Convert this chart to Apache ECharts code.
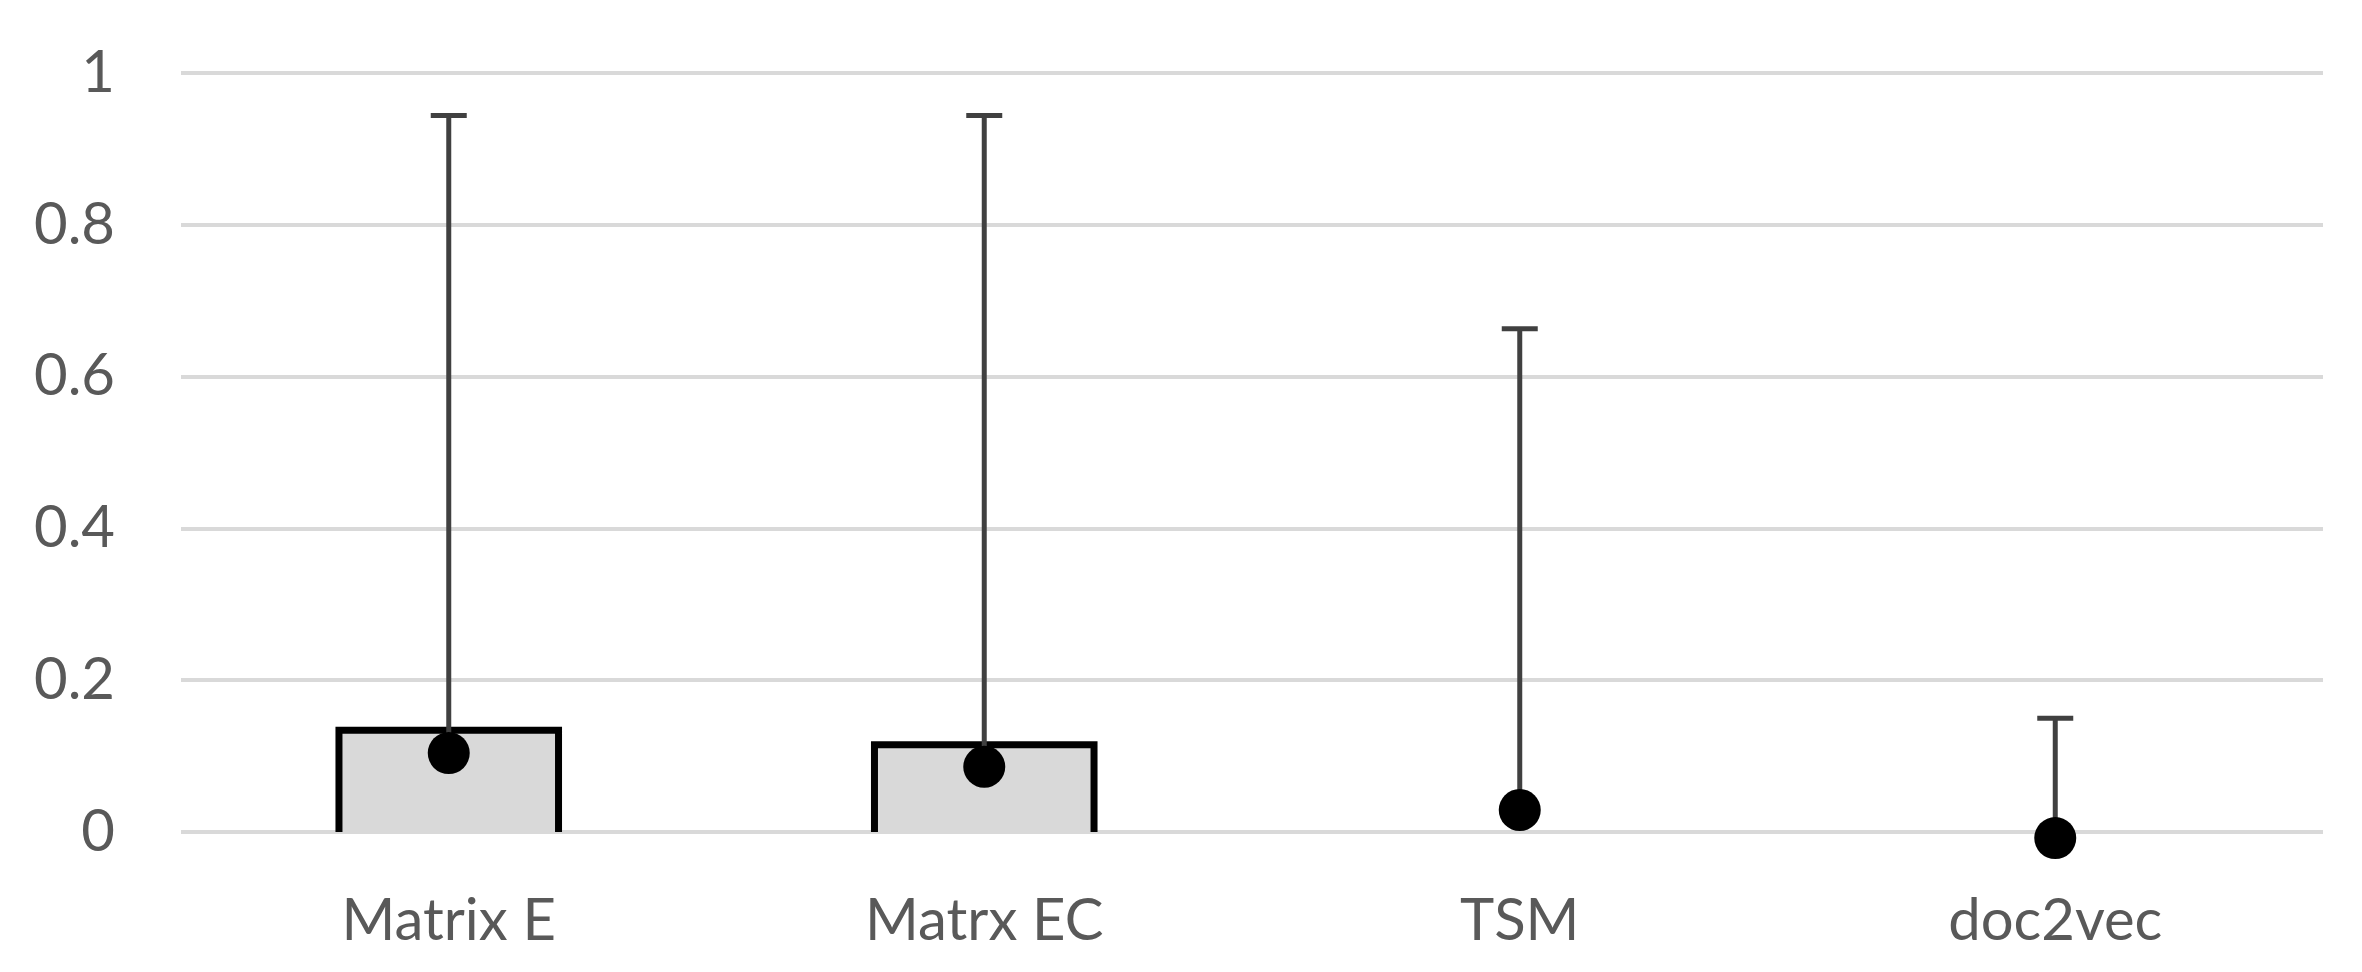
<!DOCTYPE html>
<html>
<head>
<meta charset="utf-8">
<script src="https://cdn.jsdelivr.net/npm/echarts@6/dist/echarts.min.js"></script>
<style>
  html, body { margin: 0; padding: 0; background: #fff; }
  #main { width: 2362px; height: 972px; }
</style>
</head>
<body>
<div id="main"></div>
<script>
// data
const categories = ['Matrix E', 'Matrx EC', 'TSM', 'doc2vec'];
const barValues = [0.134, 0.115, null, null];
const dotValues = [0.104, 0.086, 0.029, -0.008];
const errorTops = [0.944, 0.944, 0.663, 0.150];

const chart = echarts.init(document.getElementById('main'));

// bars: grey fill, black border on top and sides only
function renderBar(params, api) {
    const idx = api.value(0);
    const top = api.coord([idx, api.value(1)]);
    const base = api.coord([idx, 0]);
    const w = api.size([1, 0])[0] * 0.41;
    const x0 = top[0] - w / 2, x1 = top[0] + w / 2;
    return {
        type: 'group',
        children: [{
            type: 'rect',
            shape: { x: x0, y: top[1], width: w, height: base[1] - top[1] },
            style: { fill: '#d9d9d9' }
        }, {
            type: 'polyline',
            shape: { points: [[x0, base[1]], [x0, top[1]], [x1, top[1]], [x1, base[1]]] },
            style: { stroke: '#000', lineWidth: 7, fill: null, lineJoin: 'miter' }
        }]
    };
}

// positive error bar from the dot to the cap
function renderError(params, api) {
    const idx = api.value(0);
    const lo = api.coord([idx, api.value(1)]);
    const hi = api.coord([idx, api.value(2)]);
    const cap = 18;
    return {
        type: 'group',
        children: [{
            type: 'line',
            shape: { x1: lo[0], y1: lo[1], x2: hi[0], y2: hi[1] },
            style: { stroke: '#404040', lineWidth: 5 }
        }, {
            type: 'line',
            shape: { x1: hi[0] - cap, y1: hi[1], x2: hi[0] + cap, y2: hi[1] },
            style: { stroke: '#404040', lineWidth: 5 }
        }]
    };
}

const barData = [];
barValues.forEach((v, i) => { if (v !== null) barData.push([i, v]); });
const errData = dotValues.map((v, i) => [i, v, errorTops[i]]);

const option = {
    animation: false,
    grid: { left: 181, right: 39, top: 73, bottom: 140 },
    xAxis: {
        type: 'category',
        data: categories,
        axisLine: { show: false },
        axisTick: { show: false },
        axisLabel: {
            color: '#595959',
            fontFamily: 'Lato',
            fontSize: 58,
            margin: 60
        }
    },
    yAxis: {
        type: 'value',
        min: 0,
        max: 1,
        interval: 0.2,
        axisLine: { show: false },
        axisTick: { show: false },
        axisLabel: {
            color: '#595959',
            fontFamily: 'Lato',
            fontSize: 58,
            margin: 66
        },
        splitLine: { lineStyle: { color: '#d9d9d9', width: 4 } }
    },
    series: [{
        type: 'custom',
        renderItem: renderBar,
        data: barData,
        z: 2
    }, {
        type: 'custom',
        renderItem: renderError,
        data: errData,
        z: 3
    }, {
        type: 'scatter',
        data: dotValues,
        symbol: 'circle',
        symbolSize: 42,
        clip: false,
        itemStyle: { color: '#000', opacity: 1 },
        z: 4
    }]
};
chart.setOption(option);
</script>
</body>
</html>
